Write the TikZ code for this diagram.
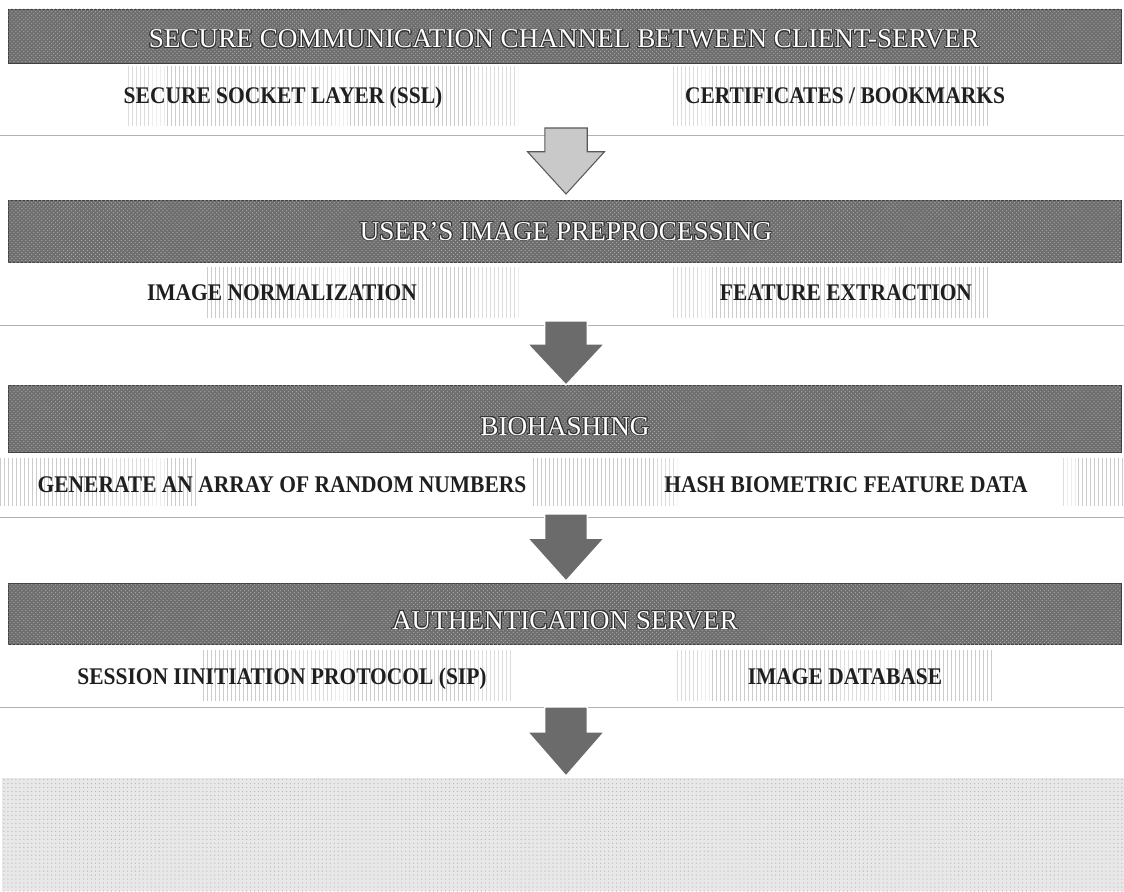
\documentclass[tikz,border=0pt]{standalone}
\usepackage{fontspec}
\setmainfont{Liberation Serif}
\newfontfamily\itemfont[FakeStretch=0.9]{Liberation Serif}
\usepackage[copies]{contour}
\contourlength{0.7pt}
\usetikzlibrary{patterns,calc}

\begin{document}
\begin{tikzpicture}[x=0.0265cm,y=-0.0265cm,
  band/.style={fill=black!57, draw=black!75, line width=0.4pt},
  bandtex/.style={pattern=crosshatch dots, pattern color=gray!70},
  title/.style={anchor=base, text=white, inner sep=0pt,
                font=\fontsize{20.5}{22}\selectfont},
  item/.style={anchor=base, text=black!88, inner sep=0pt,
               font=\itemfont\bfseries\fontsize{18}{20}\selectfont},
  stripes/.style={pattern=vertical lines, pattern color=gray!40},
  rule/.style={draw=gray!60, line width=0.5pt},
  firstarrow/.style={fill=gray!42, draw=black!65, line width=0.8pt},
  flowarrow/.style={fill=black!58, draw=white, line width=1pt},
]
\useasboundingbox (0,0) rectangle (1124,891);
\fill[white] (0,0) rectangle (1124,891);

% ---------- textured header bands ----------
\foreach \ya/\yb in {9/63, 200/262, 385/452, 583/644}{
  \draw[band] (8,\ya) rectangle (1121,\yb);
  \fill[bandtex] (8,\ya) rectangle (1121,\yb);
}

% ---------- faint striped backgrounds behind the items ----------
\fill[stripes] (125,67) rectangle (518,125);
\fill[stripes] (673,67) rectangle (990,125);
\fill[stripes] (207,267) rectangle (520,317);
\fill[stripes] (673,267) rectangle (990,317);
\fill[stripes] (0,458) rectangle (196,505);
\fill[stripes] (532,458) rectangle (677,505);
\fill[stripes] (1063,458) rectangle (1124,505);
\fill[stripes] (200,650) rectangle (513,700);
\fill[stripes] (677,650) rectangle (992,700);

% ---------- closing block ----------
\fill[gray!18] (2,778) rectangle (1124,891);
\fill[pattern=dots, pattern color=gray!55] (2,778) rectangle (1124,891);

% ---------- separator rules ----------
\foreach \y in {135, 325, 517, 707}{
  \draw[rule] (0,\y) -- (1124,\y);
}

% ---------- titles ----------
\node[title] (t1) at (564,48)  {\contour{black!80}{SECURE COMMUNICATION CHANNEL BETWEEN CLIENT-SERVER}};
\node[title] (t2) at (566,240) {\contour{black!80}{USER'S IMAGE PREPROCESSING}};
\node[title] (t3) at (565,435) {\contour{black!80}{BIOHASHING}};
\node[title] (t4) at (565,629) {\contour{black!80}{AUTHENTICATION SERVER}};

% ---------- items ----------
\node[item] (ssl)  at (283,104) {SECURE SOCKET LAYER (SSL)};
\node[item] (cert) at (845,104) {CERTIFICATES / BOOKMARKS};
\node[item] (norm) at (282,300) {IMAGE NORMALIZATION};
\node[item] (feat) at (846,300) {FEATURE EXTRACTION};
\node[item] (gen)  at (282,492) {GENERATE AN ARRAY OF RANDOM NUMBERS};
\node[item] (hash) at (846,492) {HASH BIOMETRIC FEATURE DATA};
\node[item] (sip)  at (282,684) {SESSION IINITIATION PROTOCOL (SIP)};
\node[item] (db)   at (845,684) {IMAGE DATABASE};

% ---------- block arrows between the stages (top point / tip) ----------
\coordinate (a1) at (566,128); \coordinate (b1) at (566,194);
\coordinate (a2) at (566,321); \coordinate (b2) at (566,385);
\coordinate (a3) at (566,514); \coordinate (b3) at (566,581);
\coordinate (a4) at (566,707); \coordinate (b4) at (566,776);
\foreach \i/\s in {1/firstarrow, 2/flowarrow, 3/flowarrow, 4/flowarrow}{
  \draw[\s] ([xshift=-16pt]a\i) -- ([xshift=16pt]a\i)
        -- ([xshift=16pt]$(a\i)!0.36!(b\i)$) -- ([xshift=29pt]$(a\i)!0.36!(b\i)$)
        -- (b\i)
        -- ([xshift=-29pt]$(a\i)!0.36!(b\i)$) -- ([xshift=-16pt]$(a\i)!0.36!(b\i)$)
        -- cycle;
}
\end{tikzpicture}
\end{document}
